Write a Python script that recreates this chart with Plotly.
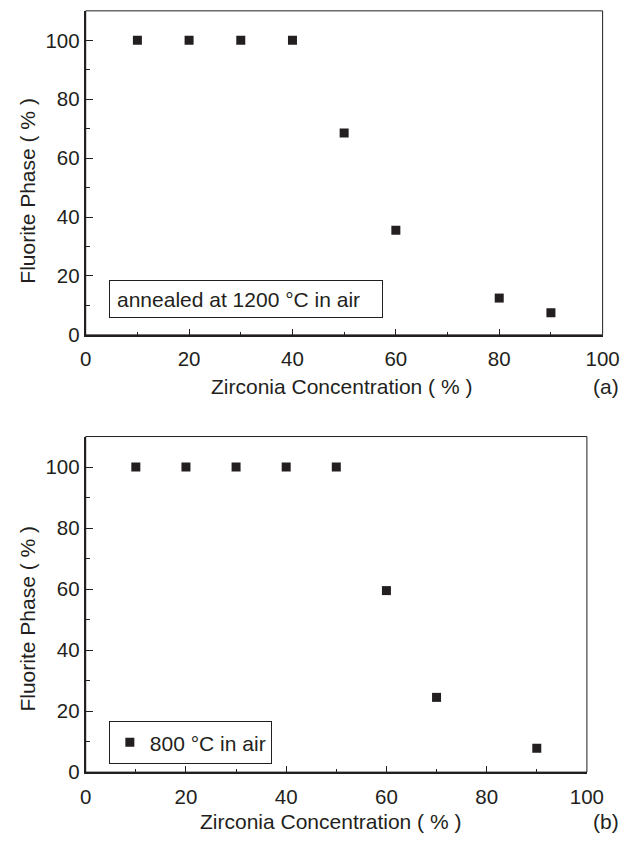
import plotly.graph_objects as go

# Zirconia content (%) and resulting fluorite phase fraction (%)
conc_1200 = [10, 20, 30, 40, 50, 60, 80, 90]
fluorite_1200 = [100, 100, 100, 100, 68.5, 35.5, 12.5, 7.5]

conc_800 = [10, 20, 30, 40, 50, 60, 70, 90]
fluorite_800 = [100, 100, 100, 100, 100, 59.5, 24.5, 7.8]

x_ticks = [0, 20, 40, 60, 80, 100]
y_ticks = [0, 20, 40, 60, 80, 100]

INK = "#231f20"
FONT = "Liberation Sans, Arial, Helvetica, sans-serif"
W, H = 636, 845


def px_x(v):
    return v / W


def px_y(v):
    return 1 - v / H


fig = go.Figure()

fig.add_trace(go.Scatter(
    x=conc_1200, y=fluorite_1200, mode="markers",
    marker=dict(symbol="square", size=9, color=INK),
    name="annealed at 1200 °C in air", showlegend=False,
    xaxis="x", yaxis="y",
))
fig.add_trace(go.Scatter(
    x=conc_800, y=fluorite_800, mode="markers",
    marker=dict(symbol="square", size=9, color=INK),
    name="800 °C in air", showlegend=True,
    xaxis="x2", yaxis="y2",
))

tickfont = dict(family=FONT, size=20.5, color=INK)


def x_axis(domain, anchor):
    return dict(
        domain=domain, anchor=anchor, range=[0, 100],
        tickvals=x_ticks, ticks="inside", ticklen=6, tickwidth=1.2,
        tickcolor=INK, tickfont=tickfont, ticklabelstandoff=5,
        minor=dict(dtick=10, tick0=0, ticks="inside", ticklen=3, tickwidth=1.2, tickcolor=INK),
        showline=True, linewidth=2, linecolor=INK, mirror=False,
        showgrid=False, zeroline=False, fixedrange=True,
    )


def y_axis(domain, anchor):
    return dict(
        domain=domain, anchor=anchor, range=[0, 110],
        tickvals=y_ticks, ticks="inside", ticklen=7, tickwidth=1.2,
        tickcolor=INK, tickfont=tickfont,
        minor=dict(dtick=10, tick0=0, ticks="inside", ticklen=4, tickwidth=1.2, tickcolor=INK),
        showline=True, linewidth=2, linecolor=INK, mirror=False,
        showgrid=False, zeroline=False, fixedrange=True,
    )


fig.update_layout(
    width=W, height=H,
    margin=dict(l=0, r=0, t=0, b=0),
    paper_bgcolor="white", plot_bgcolor="white",
    font=dict(family=FONT, size=21, color=INK),
    xaxis=x_axis([px_x(82.7), px_x(619)], "y"),
    yaxis=y_axis([px_y(339.3), px_y(11)], "x"),
    xaxis2=x_axis([px_x(82.7), px_x(602.7)], "y2"),
    yaxis2=y_axis([px_y(782.3), px_y(442.3)], "x2"),
    legend=dict(
        x=px_x(106.7), y=px_y(730.7), xanchor="left", yanchor="top",
        bordercolor=INK, borderwidth=1, bgcolor="white",
        font=dict(family=FONT, size=21, color=INK),
        itemwidth=30, tracegroupgap=0,
    ),
    showlegend=True,
)

# thin frame around each panel
for xr, yr in (("x", "y"), ("x2", "y2")):
    fig.add_shape(type="rect", xref=f"{xr} domain", yref=f"{yr} domain",
                  x0=0, x1=1, y0=0, y1=1, line=dict(color=INK, width=1),
                  layer="above")

title_font = dict(family=FONT, size=21, color=INK)
annotations = [
    dict(text="Zirconia Concentration ( % )", x=px_x(348.5), y=px_y(392)),
    dict(text="(a)", x=px_x(622), y=px_y(392)),
    dict(text="Zirconia Concentration ( % )", x=px_x(337), y=px_y(832)),
    dict(text="(b)", x=px_x(622), y=px_y(832)),
    dict(text="Fluorite Phase ( % )", x=px_x(22), y=px_y(193), textangle=-90),
    dict(text="Fluorite Phase ( % )", x=px_x(22), y=px_y(626.5), textangle=-90),
]
for a in annotations:
    fig.add_annotation(xref="paper", yref="paper", showarrow=False,
                       xanchor="center", yanchor="middle", font=title_font, **a)

# boxed condition label for the upper panel
fig.add_annotation(
    text="annealed at 1200 °C in air", xref="paper", yref="paper",
    x=px_x(106.7), y=px_y(284), xanchor="left", yanchor="top",
    showarrow=False, align="left", font=title_font,
    bordercolor=INK, borderwidth=1, borderpad=7, bgcolor="white",
    width=258, height=22,
)

fig.write_html("out.html")
